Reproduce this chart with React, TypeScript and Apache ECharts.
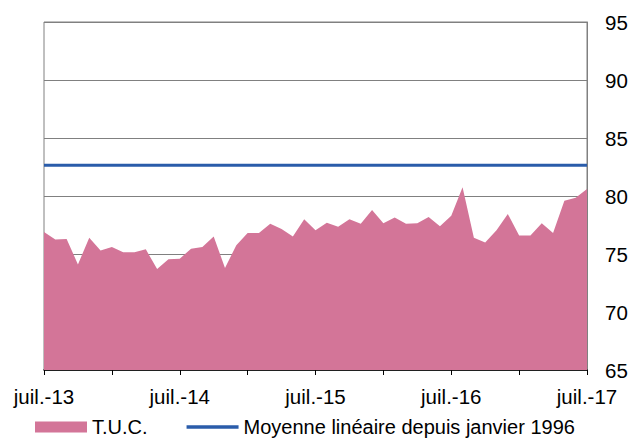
import React, { useEffect, useRef } from "react";
import * as echarts from "echarts";

const MONTHS = ["juil.", "août", "sept.", "oct.", "nov.", "déc.", "janv.", "févr.", "mars", "avr.", "mai", "juin"];
const START_YEAR = 13;
const categories: string[] = [];
for (let i = 0; i < 49; i++) {
  const m = i % 12;
  const yr = START_YEAR + Math.floor((i + 6) / 12);
  categories.push(MONTHS[m] + "-" + yr);
}

const tucValues = [
  76.9, 76.25, 76.3, 74.1, 76.4, 75.3, 75.6, 75.15, 75.15, 75.4, 73.7, 74.55,
  74.6, 75.45, 75.6, 76.5, 73.8, 75.75, 76.8, 76.8, 77.6, 77.15, 76.5, 78.0,
  77.05, 77.7, 77.35, 78.0, 77.6, 78.8, 77.65, 78.15, 77.6, 77.65, 78.2, 77.4,
  78.3, 80.75, 76.4, 76.0, 77.05, 78.45, 76.6, 76.6, 77.65, 76.8, 79.6, 79.85,
  80.6,
];

const MEAN = 82.65;
const meanValues = categories.map(() => MEAN);

const FONT = "'Liberation Sans', Arial, sans-serif";

export default function App() {
  const ref = useRef<HTMLDivElement>(null);
  useEffect(() => {
    const chart = echarts.init(ref.current!, null, { renderer: "svg" });
    chart.setOption({
      animation: false,
      grid: {
        left: 44,
        right: 45,
        top: 22,
        bottom: 69,
        show: true,
        borderColor: "#808080",
        borderWidth: 1,
      },
      legend: {
        top: 416,
        left: 35,
        padding: 0,
        itemGap: 39,
        itemWidth: 52,
        itemHeight: 11,
        textStyle: { fontFamily: FONT, fontSize: 20, lineHeight: 22, color: "#000" },
        data: [
          { name: "T.U.C.", icon: "rect" },
          { name: "Moyenne linéaire depuis janvier 1996", icon: "path://M0,0H52V3.5H0Z" },
        ],
      },
      xAxis: {
        type: "category",
        data: categories,
        boundaryGap: false,
        axisLine: { lineStyle: { color: "#000", width: 1.5 } },
        axisTick: { interval: 5, length: 5, lineStyle: { color: "#000" } },
        axisLabel: {
          interval: 11,
          margin: 16,
          fontFamily: FONT,
          fontSize: 20.5,
          color: "#000",
        },
        splitLine: { show: false },
      },
      yAxis: {
        type: "value",
        position: "right",
        min: 65,
        max: 95,
        interval: 5,
        axisLine: { show: true, lineStyle: { color: "#808080" } },
        axisTick: { show: false },
        axisLabel: { margin: 18, fontFamily: FONT, fontSize: 20.5, color: "#000" },
        splitLine: { lineStyle: { color: "#808080", width: 1 } },
      },
      series: [
        {
          name: "T.U.C.",
          type: "line",
          data: tucValues,
          symbol: "none",
          lineStyle: { width: 0 },
          itemStyle: { color: "#D37598" },
          areaStyle: { color: "#D37598", opacity: 1 },
        },
        {
          name: "Moyenne linéaire depuis janvier 1996",
          type: "line",
          data: meanValues,
          symbol: "none",
          lineStyle: { width: 3, color: "#2A5CAA" },
          itemStyle: { color: "#2A5CAA" },
        },
      ],
    });
    return () => chart.dispose();
  }, []);
  return (
    <div
      ref={ref}
      style={{ position: "absolute", left: 0, top: 0, width: 632, height: 439 }}
    />
  );
}
